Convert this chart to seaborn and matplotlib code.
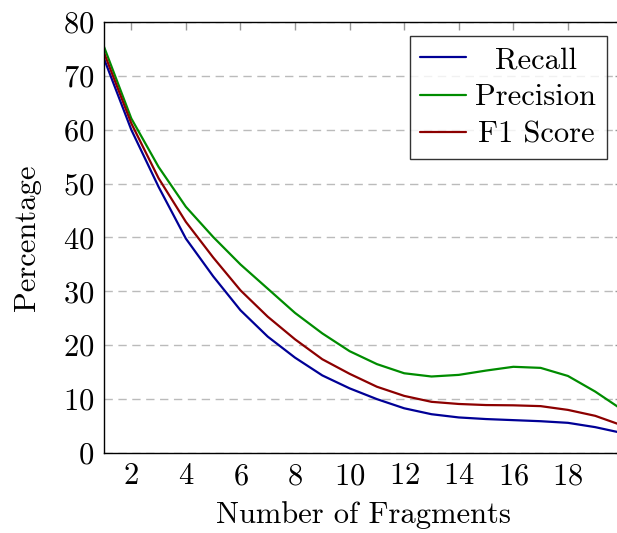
import numpy as np
import pandas as pd
import matplotlib
matplotlib.use("Agg")
import matplotlib.pyplot as plt
import seaborn as sns

fragments = list(range(1, 21))
recall = [73.2, 60.0, 49.4, 39.8, 32.8, 26.5, 21.6, 17.7, 14.4, 12.0,
          10.0, 8.3, 7.2, 6.6, 6.3, 6.1, 5.9, 5.6, 4.8, 3.7]
precision = [75.4, 62.1, 53.1, 45.7, 40.1, 35.0, 30.5, 26.0, 22.2, 18.9,
             16.5, 14.8, 14.2, 14.5, 15.3, 16.0, 15.8, 14.3, 11.4, 8.0]
f1 = [74.3, 61.2, 51.0, 42.9, 36.3, 30.2, 25.3, 21.1, 17.4, 14.7,
      12.3, 10.6, 9.5, 9.1, 8.9, 8.85, 8.7, 8.0, 6.9, 5.1]
series_names = ["Recall", "Precision", "F1 Score"]
colors = ["#000096", "#008c00", "#8c0000"]

df = pd.DataFrame({
    "Number of Fragments": fragments * 3,
    "Percentage": recall + precision + f1,
    "Metric": [series_names[0]] * 20 + [series_names[1]] * 20 + [series_names[2]] * 20,
})

sns.set_theme(style="white")
plt.rcParams["font.family"] = ["cmr10", "DejaVu Serif"]
plt.rcParams["axes.formatter.use_mathtext"] = True
plt.rcParams["mathtext.fontset"] = "cm"
plt.rcParams["text.color"] = "black"
plt.rcParams["axes.labelcolor"] = "black"
plt.rcParams["xtick.labelcolor"] = "black"
plt.rcParams["ytick.labelcolor"] = "black"

FS = 22

fig = plt.figure(figsize=(6.17, 5.33), dpi=100)
ax = fig.add_axes([104 / 617, 1 - 453 / 533, (622.5 - 104) / 617, (453 - 22) / 533])

sns.lineplot(data=df, x="Number of Fragments", y="Percentage", hue="Metric",
             palette=colors, hue_order=series_names, linewidth=1.6, ax=ax)

ax.set_xlim(1, 20)
ax.set_ylim(0, 80)
ax.set_xticks(range(2, 20, 2))
ax.set_yticks(range(0, 81, 10))
ax.yaxis.grid(True, linestyle=(0, (6, 4)), color="#bbbbbb", linewidth=1.0)
ax.xaxis.grid(False)
ax.tick_params(axis="both", direction="in", length=6, width=1.0, color="#999999",
               labelsize=FS, top=True, right=True, pad=7)
for s in ax.spines.values():
    s.set_color("black")
    s.set_linewidth(1.0)
ax.set_xlabel("Number of Fragments", fontsize=FS, labelpad=8)
ax.set_ylabel("Percentage", fontsize=FS, labelpad=16)

leg = ax.legend(loc="upper right", bbox_to_anchor=((607 - 104) / (622.5 - 104), 1 - 14 / 431),
                fontsize=FS, frameon=True, fancybox=False, edgecolor="black",
                handlelength=1.5, borderpad=0.35, labelspacing=0.32, handletextpad=0.3,
                borderaxespad=0)
leg.get_frame().set_linewidth(1.0)

# centre the legend labels within their column
fig.canvas.draw()
renderer = fig.canvas.get_renderer()
widths = [t.get_window_extent(renderer).width for t in leg.get_texts()]
wmax = max(widths)
for t, w in zip(leg.get_texts(), widths):
    t.set_position(((wmax - w) / 2, 0))

fig.savefig("out.png", dpi=100)
